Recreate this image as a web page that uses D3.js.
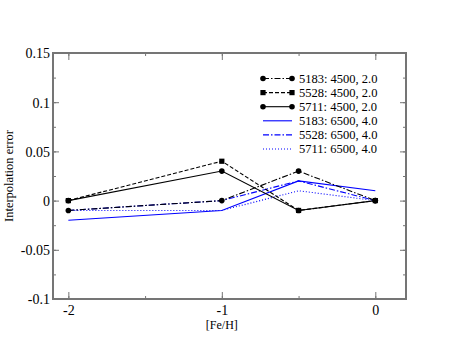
<!DOCTYPE html>
<html>
<head>
<meta charset="utf-8">
<script src="https://cdn.jsdelivr.net/npm/d3@7"></script>
<style>
  body { margin: 0; background: #fff; }
  svg text { font-family: "Liberation Serif", "DejaVu Serif", serif; fill: #000; }
</style>
</head>
<body>
<svg id="chart" width="457" height="353"></svg>
<script>
// values
var feh = [-2, -1, -0.5, 0];
var err5183_4500 = [-0.01, 0, 0.03, 0];
var err5528_4500 = [0, 0.04, -0.01, 0];
var err5711_4500 = [0, 0.03, -0.01, 0];
var err5183_6500 = [-0.02, -0.01, 0.02, 0.01];
var err5528_6500 = [-0.01, 0, 0.02, 0];
var err5711_6500 = [-0.01, -0.01, 0.01, 0];
var xTicks = [-2, -1, 0];
var yTicks = [-0.1, -0.05, 0, 0.05, 0.1, 0.15];

var series = [
    {name: "5183: 4500, 2.0", values: err5183_4500, color: "#000", dash: "6,2,1.5,2", marker: "circle"},
    {name: "5528: 4500, 2.0", values: err5528_4500, color: "#000", dash: "4,2", marker: "square"},
    {name: "5711: 4500, 2.0", values: err5711_4500, color: "#000", dash: null, marker: "circle"},
    {name: "5183: 6500, 4.0", values: err5183_6500, color: "#0000ff", dash: null, marker: null},
    {name: "5528: 6500, 4.0", values: err5528_6500, color: "#0000ff", dash: "6,2,1.5,2", marker: null},
    {name: "5711: 6500, 4.0", values: err5711_6500, color: "#0000ff", dash: "1,2", marker: null}
];

var pLeft = 53, pRight = 406, pTop = 53, pBottom = 299;
var svg = d3.select("#chart");
var serif = "'Liberation Serif', 'DejaVu Serif', serif";

var x = d3.scaleLinear().domain([-2.1, 0.2]).range([pLeft, pRight]);
var y = d3.scaleLinear().domain([-0.1, 0.15]).range([pBottom, pTop]);

var frameColor = "#757575";
var fmt = function(d) { return String(+d.toFixed(2)); };

// tick marks only (inward, mirrored on all sides)
function tickLines(g, axis) {
    g.call(axis);
    g.select(".domain").remove();
    g.selectAll("line").attr("stroke", frameColor).attr("stroke-width", 1);
    g.selectAll("text").remove();
}
var xMinor = d3.range(-2, 0.01, 0.5);
var yMinor = d3.range(-0.1, 0.151, 0.025);

svg.append("g").attr("transform", "translate(0," + pBottom + ")")
    .call(tickLines, d3.axisTop(x).tickValues(xMinor).tickSize(3));
svg.append("g").attr("transform", "translate(0," + pTop + ")")
    .call(tickLines, d3.axisBottom(x).tickValues(xMinor).tickSize(3));
svg.append("g").attr("transform", "translate(" + pLeft + ",0)")
    .call(tickLines, d3.axisRight(y).tickValues(yMinor).tickSize(3));
svg.append("g").attr("transform", "translate(" + pRight + ",0)")
    .call(tickLines, d3.axisLeft(y).tickValues(yMinor).tickSize(3));

svg.append("g").attr("transform", "translate(0," + pTop + ")")
    .call(tickLines, d3.axisBottom(x).tickValues(xTicks).tickSize(7));
svg.append("g").attr("transform", "translate(" + pRight + ",0)")
    .call(tickLines, d3.axisLeft(y).tickValues(yTicks).tickSize(6));

var xAxis = svg.append("g").attr("transform", "translate(0," + pBottom + ")")
    .call(d3.axisTop(x).tickValues(xTicks).tickSize(7).tickFormat(fmt));
xAxis.select(".domain").remove();
xAxis.selectAll("line").attr("stroke", frameColor);
xAxis.selectAll("text").attr("y", 16).attr("dy", 0)
    .style("font-family", serif).style("font-size", "14px").style("fill", "#000");

var yAxis = svg.append("g").attr("transform", "translate(" + pLeft + ",0)")
    .call(d3.axisRight(y).tickValues(yTicks).tickSize(6).tickFormat(fmt));
yAxis.select(".domain").remove();
yAxis.selectAll("line").attr("stroke", frameColor);
yAxis.selectAll("text").attr("x", -3).attr("text-anchor", "end").attr("dy", "0.35em")
    .style("font-family", serif).style("font-size", "14px").style("fill", "#000");

svg.append("rect")
    .attr("x", pLeft).attr("y", pTop)
    .attr("width", pRight - pLeft).attr("height", pBottom - pTop)
    .attr("fill", "none").attr("stroke", frameColor).attr("stroke-width", 2);

// axis titles
svg.append("text").attr("x", x(-1)).attr("y", 329).attr("text-anchor", "middle")
    .style("font-size", "12px").text("[Fe/H]");
svg.append("text").attr("transform", "translate(13," + y(0.025) + ") rotate(-90)")
    .attr("text-anchor", "middle").style("font-size", "12.5px").text("Interpolation error");

// series
var line = d3.line().x(function(d, i) { return x(feh[i]); }).y(function(d) { return y(d); });

function drawMarker(g, kind, cx, cy, color) {
    if (kind === "circle") {
        g.append("circle").attr("cx", cx).attr("cy", cy).attr("r", 2.8).attr("fill", color);
    } else if (kind === "square") {
        g.append("rect").attr("x", cx - 2.6).attr("y", cy - 2.6).attr("width", 5.2).attr("height", 5.2).attr("fill", color);
    }
}

var plot = svg.append("g");
series.slice().reverse().forEach(function(s) {
    plot.append("path").datum(s.values)
        .attr("d", line)
        .attr("fill", "none")
        .attr("stroke", s.color)
        .attr("stroke-width", 1.1)
        .attr("stroke-dasharray", s.dash);
});
series.forEach(function(s) {
    if (!s.marker) return;
    s.values.forEach(function(v, i) { drawMarker(plot, s.marker, x(feh[i]), y(v), s.color); });
});

// legend
var legend = svg.append("g");
series.forEach(function(s, i) {
    var ly = 78.5 + i * 14.1;
    legend.append("line").attr("x1", 263).attr("x2", 292).attr("y1", ly).attr("y2", ly)
        .attr("stroke", s.color).attr("stroke-width", 1.1).attr("stroke-dasharray", s.dash);
    if (s.marker) {
        drawMarker(legend, s.marker, 263, ly, s.color);
        drawMarker(legend, s.marker, 292, ly, s.color);
    }
    legend.append("text").attr("x", 299).attr("y", ly).attr("dy", "0.35em")
        .style("font-size", "12.5px").text(s.name);
});
</script>
</body>
</html>
